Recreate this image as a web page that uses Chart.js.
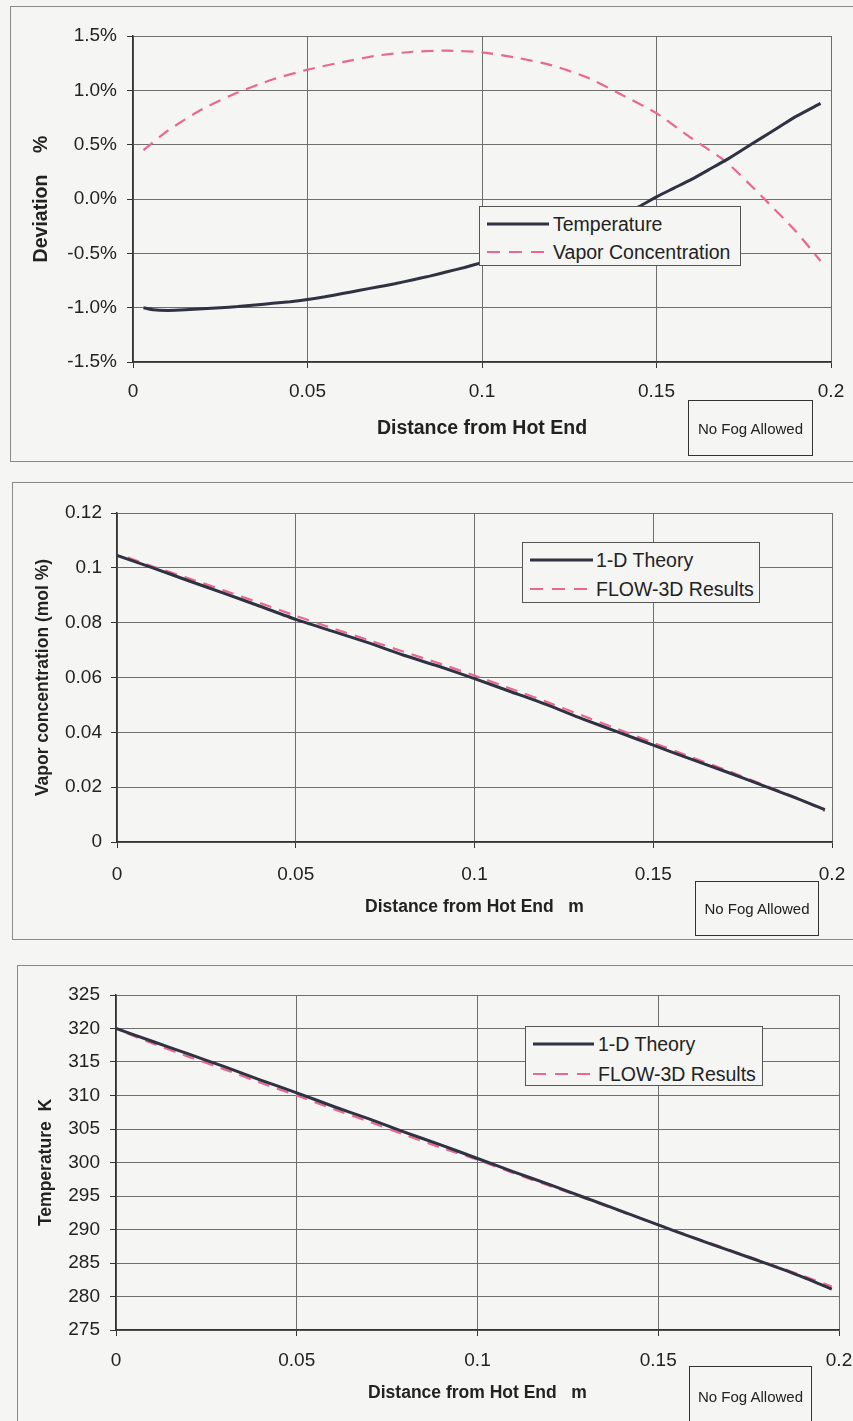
<!DOCTYPE html>
<html><head><meta charset="utf-8">
<script src="https://cdn.jsdelivr.net/npm/chart.js@4.4.0/dist/chart.umd.min.js"></script>
<style>
html,body{margin:0;padding:0;background:#f5f5f4;}
body{width:853px;height:1421px;position:relative;overflow:hidden;font-family:"Liberation Sans",Arial,sans-serif;color:#222;}
.frame{position:absolute;border:1.2px solid #8a8a8a;box-sizing:border-box;}
canvas{position:absolute;left:0;}
.legend{position:absolute;background:#f5f5f4;border:1.2px solid #555;box-sizing:border-box;}
.ltxt{position:absolute;font-size:19.5px;line-height:22px;white-space:pre;color:#222;}
svg.lsample{position:absolute;overflow:visible;}
.fog{position:absolute;border:1.6px solid #333;box-sizing:border-box;display:flex;align-items:center;justify-content:center;font-size:15px;color:#222;white-space:nowrap;}
</style>
</head><body>
<div class="frame" style="left:10px;top:6px;width:860px;height:456px;"></div>
<div class="frame" style="left:12px;top:482px;width:860px;height:458px;"></div>
<div class="frame" style="left:17px;top:965px;width:860px;height:480px;"></div>
<script>
// ---------- DATA ----------
const xTickLabels = ['0', '0.05', '0.1', '0.15', '0.2'];

// Chart 1: Deviation (%)
const devTempX = [0.003,0.006,0.01,0.015,0.02,0.025,0.03,0.035,0.04,0.045,0.05,0.055,0.06,0.065,0.07,0.075,0.08,0.085,0.09,0.095,0.1,0.105,0.11,0.115,0.12,0.125,0.13,0.135,0.14,0.145,0.15,0.155,0.16,0.165,0.17,0.175,0.18,0.185,0.19,0.197];
const devTempY = [-1.00,-1.02,-1.025,-1.02,-1.01,-1.00,-0.99,-0.975,-0.96,-0.945,-0.925,-0.90,-0.87,-0.84,-0.81,-0.78,-0.745,-0.71,-0.67,-0.63,-0.585,-0.54,-0.49,-0.44,-0.385,-0.33,-0.27,-0.21,-0.145,-0.07,0.02,0.10,0.18,0.27,0.36,0.46,0.56,0.66,0.76,0.88];
const devVapX = [0.003,0.01,0.02,0.03,0.04,0.05,0.06,0.07,0.08,0.09,0.1,0.11,0.12,0.13,0.14,0.15,0.16,0.17,0.18,0.19,0.197];
const devVapY = [0.45,0.63,0.83,0.98,1.10,1.19,1.26,1.32,1.355,1.365,1.35,1.30,1.23,1.12,0.96,0.79,0.56,0.34,0.03,-0.30,-0.57];
const devYTickLabels = ['-1.5%','-1.0%','-0.5%','0.0%','0.5%','1.0%','1.5%'];

// Chart 2: Vapor concentration (mol %)
const vcTheoryX = [0,0.01,0.02,0.03,0.04,0.05,0.06,0.07,0.08,0.09,0.1,0.11,0.12,0.13,0.14,0.15,0.16,0.17,0.18,0.19,0.198];
const vcTheoryY = [0.1045,0.1000,0.0953,0.0907,0.0860,0.0812,0.0770,0.0728,0.0682,0.0641,0.0596,0.0549,0.0502,0.0450,0.0402,0.0353,0.0305,0.0258,0.0209,0.0160,0.0118];
const vcFlowX = [0.003,0.01,0.02,0.03,0.04,0.05,0.06,0.07,0.08,0.09,0.1,0.11,0.12,0.13,0.14,0.15,0.16,0.17,0.18,0.19,0.198];
const vcFlowY = [0.1038,0.1005,0.0962,0.0917,0.0872,0.0825,0.0781,0.0738,0.0695,0.0652,0.0607,0.0560,0.0512,0.0462,0.0412,0.0362,0.0313,0.0264,0.0213,0.0162,0.0113];
const vcYTickLabels = ['0','0.02','0.04','0.06','0.08','0.1','0.12'];

// Chart 3: Temperature K
const tTheoryX = [0,0.01,0.02,0.03,0.04,0.05,0.06,0.07,0.08,0.09,0.1,0.11,0.12,0.13,0.14,0.15,0.16,0.17,0.18,0.19,0.198];
const tTheoryY = [320.0,318.1,316.2,314.3,312.3,310.4,308.4,306.5,304.5,302.6,300.6,298.6,296.7,294.7,292.7,290.7,288.7,286.8,284.9,282.9,281.1];
const tFlowX = [0.003,0.01,0.02,0.03,0.04,0.05,0.06,0.07,0.08,0.09,0.1,0.11,0.12,0.13,0.14,0.15,0.16,0.17,0.18,0.19,0.198];
const tFlowY = [319.3,317.8,315.8,313.9,311.9,310.0,308.0,306.1,304.1,302.2,300.4,298.4,296.5,294.6,292.6,290.7,288.8,286.9,285.0,283.1,281.5];
const tYTickLabels = ['275','280','285','290','295','300','305','310','315','320','325'];

// ---------- STYLE ----------
const SOLID = '#2f3242';
const PINK = '#e8688f';
const DASH = [12, 8];
const FONT = '"Liberation Sans", Arial, sans-serif';

function pts(xs, ys) { return xs.map((x, i) => ({x: x, y: ys[i]})); }

function makeChart(cfg) {
  const c = document.createElement('canvas');
  c.width = 853; c.height = cfg.h;
  c.style.top = cfg.top + 'px';
  c.style.width = '853px'; c.style.height = cfg.h + 'px';
  document.body.appendChild(c);
  const A = cfg.area;
  const XH = 80;
  const tLH = cfg.titleSize * 1.2;
  new Chart(c.getContext('2d'), {
    type: 'line',
    data: {
      datasets: [
        {label: cfg.names[0], data: pts(cfg.s1x, cfg.s1y), borderColor: SOLID, borderWidth: 3, pointRadius: 0, fill: false, tension: 0.2},
        {label: cfg.names[1], data: pts(cfg.s2x, cfg.s2y), borderColor: PINK, borderWidth: 2.2, borderDash: DASH, pointRadius: 0, fill: false, tension: 0.2}
      ]
    },
    options: {
      responsive: false, animation: false, devicePixelRatio: 1,
      layout: {padding: {left: 0, top: A.t, right: 853 - A.r, bottom: cfg.h - A.b - XH}},
      plugins: {legend: {display: false}, tooltip: {enabled: false}},
      scales: {
        x: {
          type: 'linear', min: 0, max: 0.2,
          afterBuildTicks: s => { s.ticks = [0, 0.05, 0.1, 0.15, 0.2].map(v => ({value: v})); },
          afterFit: s => { s.height = XH; s.paddingLeft = 0; s.paddingRight = 0; },
          grid: {color: '#6e6e6e', lineWidth: 1, tickLength: 6, tickColor: '#333'},
          border: {color: '#333', width: 1.5},
          ticks: {padding: cfg.xTickPad, color: '#222', maxRotation: 0, autoSkip: false,
                  font: {family: FONT, size: 19}, callback: (v, i) => xTickLabels[i]},
          title: {display: true, text: cfg.xTitle, color: '#222',
                  font: {family: FONT, size: cfg.titleSize, weight: 'bold'},
                  padding: {top: 0, bottom: A.b + XH - tLH / 2 - cfg.xTitleY}}
        },
        y: {
          type: 'linear', min: cfg.yMin, max: cfg.yMax,
          afterBuildTicks: s => { s.ticks = cfg.yLabels.map((l, i) => ({value: cfg.yMin + i * cfg.yStep})); },
          afterFit: s => { s.width = A.l; s.paddingTop = 0; s.paddingBottom = 0; },
          grid: {color: '#6e6e6e', lineWidth: 1, tickLength: 6, tickColor: '#333'},
          border: {color: '#333', width: 1.5},
          ticks: {padding: cfg.yTickPad, color: '#222', autoSkip: false,
                  font: {family: FONT, size: 19}, callback: (v, i) => cfg.yLabels[i]},
          title: {display: true, text: cfg.yTitle, color: '#222',
                  font: {family: FONT, size: cfg.titleSize, weight: 'bold'},
                  padding: {top: cfg.yTitleX - tLH / 2, bottom: 0}}
        }
      }
    }
  });
  // legend (HTML)
  const L = cfg.legend;
  const box = document.createElement('div');
  box.className = 'legend';
  box.style.cssText = `left:${L.l}px;top:${L.t}px;width:${L.w}px;height:${L.h}px;`;
  document.body.appendChild(box);
  L.rows.forEach((r, i) => {
    const ns = 'http://www.w3.org/2000/svg';
    const svg = document.createElementNS(ns, 'svg');
    svg.setAttribute('class', 'lsample');
    svg.setAttribute('width', r.x2 - r.x1); svg.setAttribute('height', 6);
    svg.style.left = r.x1 + 'px'; svg.style.top = (r.y - 3) + 'px';
    const ln = document.createElementNS(ns, 'line');
    ln.setAttribute('x1', 0); ln.setAttribute('x2', r.x2 - r.x1);
    ln.setAttribute('y1', 3); ln.setAttribute('y2', 3);
    ln.setAttribute('stroke', i === 0 ? SOLID : PINK);
    ln.setAttribute('stroke-width', i === 0 ? 3 : 2.2);
    if (i === 1) ln.setAttribute('stroke-dasharray', '13 9');
    svg.appendChild(ln);
    document.body.appendChild(svg);
    const t = document.createElement('div');
    t.className = 'ltxt';
    t.textContent = cfg.names[i];
    t.style.left = r.tx + 'px'; t.style.top = (r.y - 11) + 'px';
    document.body.appendChild(t);
  });
  const f = document.createElement('div');
  f.className = 'fog';
  f.textContent = 'No Fog Allowed';
  f.style.cssText = `left:${cfg.fog.l}px;top:${cfg.fog.t}px;width:${cfg.fog.w}px;height:${cfg.fog.h}px;`;
  document.body.appendChild(f);
}

makeChart({
  top: 0, h: 470, area: {l: 133, r: 831, t: 36, b: 362},
  names: ['Temperature', 'Vapor Concentration'],
  s1x: devTempX, s1y: devTempY, s2x: devVapX, s2y: devVapY,
  yMin: -1.5, yMax: 1.5, yStep: 0.5, yLabels: devYTickLabels,
  xTitle: 'Distance from Hot End', yTitle: 'Deviation    %',
  titleSize: 19.5, xTitleY: 429, yTitleX: 42, xTickPad: 12, yTickPad: 10,
  legend: {l: 479, t: 206, w: 262, h: 60, rows: [
    {y: 224, x1: 487, x2: 549, tx: 553}, {y: 252, x1: 487, x2: 549, tx: 553}]},
  fog: {l: 688, t: 400, w: 125, h: 56}
});

makeChart({
  top: 470, h: 480, area: {l: 117, r: 832, t: 43, b: 372},
  names: ['1-D Theory', 'FLOW-3D Results'],
  s1x: vcTheoryX, s1y: vcTheoryY, s2x: vcFlowX, s2y: vcFlowY,
  yMin: 0, yMax: 0.12, yStep: 0.02, yLabels: vcYTickLabels,
  xTitle: 'Distance from Hot End   m', yTitle: 'Vapor concentration (mol %)',
  titleSize: 17.5, xTitleY: 436.7, yTitleX: 43.5, xTickPad: 15, yTickPad: 9,
  legend: {l: 522, t: 542, w: 238, h: 61, rows: [
    {y: 560, x1: 530, x2: 593, tx: 596}, {y: 589, x1: 530, x2: 593, tx: 596}]},
  fog: {l: 695, t: 881, w: 124, h: 55}
});

makeChart({
  top: 950, h: 471, area: {l: 116, r: 839, t: 45, b: 380},
  names: ['1-D Theory', 'FLOW-3D Results'],
  s1x: tTheoryX, s1y: tTheoryY, s2x: tFlowX, s2y: tFlowY,
  yMin: 275, yMax: 325, yStep: 5, yLabels: tYTickLabels,
  xTitle: 'Distance from Hot End   m', yTitle: 'Temperature  K',
  titleSize: 17.5, xTitleY: 443.3, yTitleX: 46, xTickPad: 13, yTickPad: 10,
  legend: {l: 525, t: 1026, w: 238, h: 60, rows: [
    {y: 1044, x1: 533, x2: 594, tx: 598}, {y: 1074, x1: 533, x2: 594, tx: 598}]},
  fog: {l: 689, t: 1366, w: 123, h: 60}
});
</script>
</body></html>
